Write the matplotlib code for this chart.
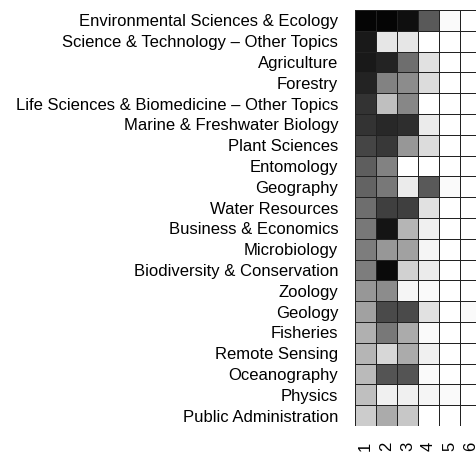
import numpy as np
import matplotlib
matplotlib.use("Agg")
import matplotlib.pyplot as plt
from matplotlib.colors import LinearSegmentedColormap

# Research areas (top to bottom)
areas = [
    "Environmental Sciences & Ecology",
    "Science & Technology \u2013 Other Topics",
    "Agriculture",
    "Forestry",
    "Life Sciences & Biomedicine \u2013 Other Topics",
    "Marine & Freshwater Biology",
    "Plant Sciences",
    "Entomology",
    "Geography",
    "Water Resources",
    "Business & Economics",
    "Microbiology",
    "Biodiversity & Conservation",
    "Zoology",
    "Geology",
    "Fisheries",
    "Remote Sensing",
    "Oceanography",
    "Physics",
    "Public Administration",
]
clusters = ["1", "2", "3", "4", "5", "6"]

# relative intensity per cluster (1 = darkest)
c1 = [0.98, 0.90, 0.90, 0.86, 0.80, 0.80, 0.73, 0.63, 0.61, 0.57, 0.53, 0.51, 0.51, 0.41, 0.37, 0.31, 0.29, 0.27, 0.25, 0.20]
c2 = [0.98, 0.10, 0.86, 0.49, 0.25, 0.84, 0.78, 0.49, 0.53, 0.75, 0.92, 0.41, 0.96, 0.45, 0.71, 0.53, 0.16, 0.67, 0.06, 0.33]
c3 = [0.94, 0.10, 0.57, 0.45, 0.47, 0.82, 0.41, 0.00, 0.08, 0.75, 0.29, 0.37, 0.18, 0.04, 0.71, 0.33, 0.33, 0.67, 0.06, 0.22]
c4 = [0.65, 0.00, 0.12, 0.14, 0.00, 0.08, 0.14, 0.00, 0.65, 0.12, 0.06, 0.04, 0.08, 0.02, 0.12, 0.02, 0.06, 0.02, 0.04, 0.00]
c5 = [0.02, 0.00, 0.00, 0.00, 0.00, 0.00, 0.00, 0.00, 0.02, 0.00, 0.00, 0.00, 0.00, 0.00, 0.00, 0.00, 0.00, 0.00, 0.02, 0.00]
c6 = [0.00, 0.00, 0.00, 0.00, 0.00, 0.00, 0.00, 0.00, 0.00, 0.00, 0.00, 0.00, 0.00, 0.00, 0.02, 0.00, 0.00, 0.00, 0.00, 0.00]

plt.rcParams["font.family"] = ["Liberation Sans", "DejaVu Sans"]

mat = np.array([c1, c2, c3, c4, c5, c6]).T
cmap = LinearSegmentedColormap.from_list("wb", ["white", "black"])

fig = plt.figure(figsize=(4.76, 4.54), dpi=100)
# axes runs past the right edge of the figure, like the original
ax = fig.add_axes([355 / 476, 1 - 426 / 454, 126 / 476, 416 / 454])
ax.pcolormesh(mat, cmap=cmap, vmin=0, vmax=1, edgecolors="#222222", linewidth=0.6)
ax.set_xlim(0, len(clusters))
ax.set_ylim(len(areas), 0)

ax.set_yticks(np.arange(len(areas)) + 0.5)
ax.set_yticklabels(areas, fontsize=12)
ax.set_xticks(np.arange(len(clusters)) + 0.5)
ax.set_xticklabels(clusters, rotation=90, fontsize=12)
ax.tick_params(length=0)
ax.tick_params(axis="y", pad=12)
ax.tick_params(axis="x", pad=11)
for s in ax.spines.values():
    s.set_visible(False)

fig.savefig("out.png", dpi=100)
